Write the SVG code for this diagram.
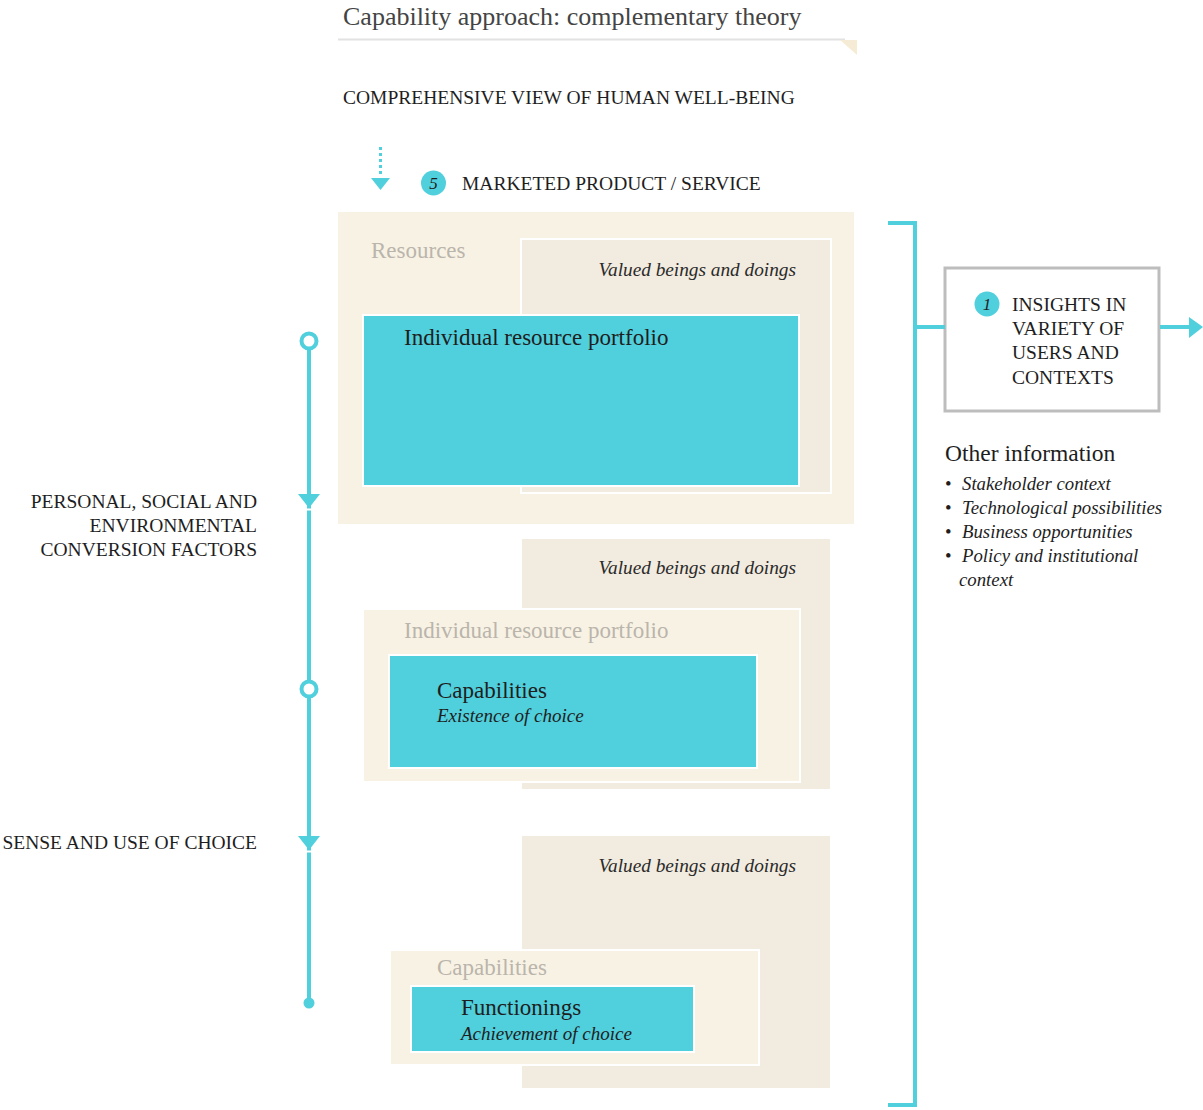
<svg xmlns="http://www.w3.org/2000/svg" width="1203" height="1110" viewBox="0 0 1203 1110">
<defs>
<style>
text{font-family:"Liberation Serif","DejaVu Serif",serif;fill:#1e1e1e}
.title{font-size:26px;fill:#444}
.cap{font-size:19.5px}
.lbl{font-size:19px}
.val{font-size:19.3px;font-style:italic;text-anchor:end;fill:#2a2a2a}
.big{font-size:23px}
.ghost{font-size:23px;fill:#bab5ac}
.it{font-style:italic}
.outer{fill:#f8f2e4}
.valued{fill:#f2ebdf;stroke:#ffffff;stroke-width:2}
.inner{fill:#f8f2e4;stroke:#ffffff;stroke-width:2}
.teal{fill:#50cfdc;stroke:#ffffff;stroke-width:2}
.tl{stroke:#50cfdc;stroke-width:4;fill:none}
.tri{fill:#50cfdc}
.bul{font-size:18.8px;font-style:italic}
</style>
</defs>
<rect width="1203" height="1110" fill="#ffffff"/>

<g id="header">
<text class="title" x="343" y="25">Capability approach: complementary theory</text>
<line x1="338" y1="39.5" x2="845" y2="39.5" stroke="#e2e2e2" stroke-width="2"/>
<polygon points="840,40 857,40 857,55" fill="#f6ecd6"/>
<text class="cap" x="343" y="104">COMPREHENSIVE VIEW OF HUMAN WELL-BEING</text>
</g>

<g id="marketed">
<line x1="380.5" y1="147" x2="380.5" y2="176" stroke="#50cfdc" stroke-width="3" stroke-dasharray="3,3"/>
<polygon class="tri" points="371,178 390,178 380.5,190"/>
<circle cx="433.5" cy="183" r="12.5" fill="#50cfdc"/>
<text x="433.5" y="189" font-size="17" class="it" text-anchor="middle">5</text>
<text class="cap" x="462" y="190">MARKETED PRODUCT / SERVICE</text>
</g>

<g id="block1">
<rect class="outer" x="338" y="212" width="516" height="312"/>
<text class="ghost" x="371" y="258">Resources</text>
<rect class="valued" x="521" y="239" width="310" height="254"/>
<text class="val" x="796" y="276">Valued beings and doings</text>
<rect class="teal" x="363" y="315" width="436" height="171"/>
<text class="big" x="404" y="345">Individual resource portfolio</text>
</g>

<g id="block2">
<rect class="valued" x="521" y="538" width="310" height="252" stroke="none"/>
<text class="val" x="796" y="574">Valued beings and doings</text>
<rect class="inner" x="363" y="609" width="437" height="173"/>
<text class="ghost" x="404" y="638">Individual resource portfolio</text>
<rect class="teal" x="389" y="655" width="368" height="113"/>
<text class="big" x="437" y="698">Capabilities</text>
<text class="lbl it" x="437" y="722">Existence of choice</text>
</g>

<g id="block3">
<rect class="valued" x="521" y="835" width="310" height="254" stroke="none"/>
<text class="val" x="796" y="872">Valued beings and doings</text>
<rect class="inner" x="390" y="950" width="369" height="115"/>
<text class="ghost" x="437" y="975">Capabilities</text>
<rect class="teal" x="411" y="986" width="283" height="66"/>
<text class="big" x="461" y="1015">Functionings</text>
<text class="lbl it" x="461" y="1040">Achievement of choice</text>
</g>

<g id="conversion-labels">
<text class="cap" x="257" y="508" text-anchor="end">PERSONAL, SOCIAL AND</text>
<text class="cap" x="257" y="532" text-anchor="end">ENVIRONMENTAL</text>
<text class="cap" x="257" y="556" text-anchor="end">CONVERSION FACTORS</text>
<text class="cap" x="257" y="849" text-anchor="end">SENSE AND USE OF CHOICE</text>
</g>

<g id="insights">
<rect x="945" y="268" width="214" height="143" fill="#ffffff" stroke="#bdbdbd" stroke-width="3"/>
<circle cx="987" cy="304" r="12.5" fill="#50cfdc"/>
<text x="987" y="310" font-size="17" class="it" text-anchor="middle">1</text>
<text class="cap" x="1012" y="311" font-size="20">INSIGHTS IN</text>
<text class="cap" x="1012" y="335" font-size="20">VARIETY OF</text>
<text class="cap" x="1012" y="359" font-size="20">USERS AND</text>
<text class="cap" x="1012" y="384" font-size="20">CONTEXTS</text>
</g>

<g id="other-information">
<text x="945" y="461" font-size="23.5">Other information</text>
<g font-size="18.8">
<text x="945" y="490">•</text>
<text x="945" y="514">•</text>
<text x="945" y="538">•</text>
<text x="945" y="562">•</text>
</g>
<text class="bul" x="962" y="490">Stakeholder context</text>
<text class="bul" x="962" y="514">Technological possibilities</text>
<text class="bul" x="962" y="538">Business opportunities</text>
<text class="bul" x="962" y="562">Policy and institutional</text>
<text class="bul" x="959" y="586">context</text>
</g>

<g id="connectors">
<line class="tl" x1="309" y1="349" x2="309" y2="1000"/>
<circle cx="309" cy="341" r="7.5" fill="#ffffff" stroke="#50cfdc" stroke-width="4"/>
<polygon class="tri" points="298,494 320,494 309,508"/>
<line x1="301" y1="509.5" x2="317" y2="509.5" stroke="#ffffff" stroke-width="2"/>
<circle cx="309" cy="689" r="7.5" fill="#ffffff" stroke="#50cfdc" stroke-width="4"/>
<polygon class="tri" points="298,836 320,836 309,850"/>
<line x1="301" y1="851.5" x2="317" y2="851.5" stroke="#ffffff" stroke-width="2"/>
<circle cx="309" cy="1003" r="5.5" fill="#50cfdc"/>
<polyline class="tl" points="888,223 915,223 915,1105 888,1105" stroke-width="3"/>
<line class="tl" x1="915" y1="327" x2="945" y2="327" stroke-width="3"/>
<line class="tl" x1="1160" y1="327" x2="1190" y2="327" stroke-width="3"/>
<polygon class="tri" points="1189,317 1203,327 1189,338"/>
</g>
</svg>
